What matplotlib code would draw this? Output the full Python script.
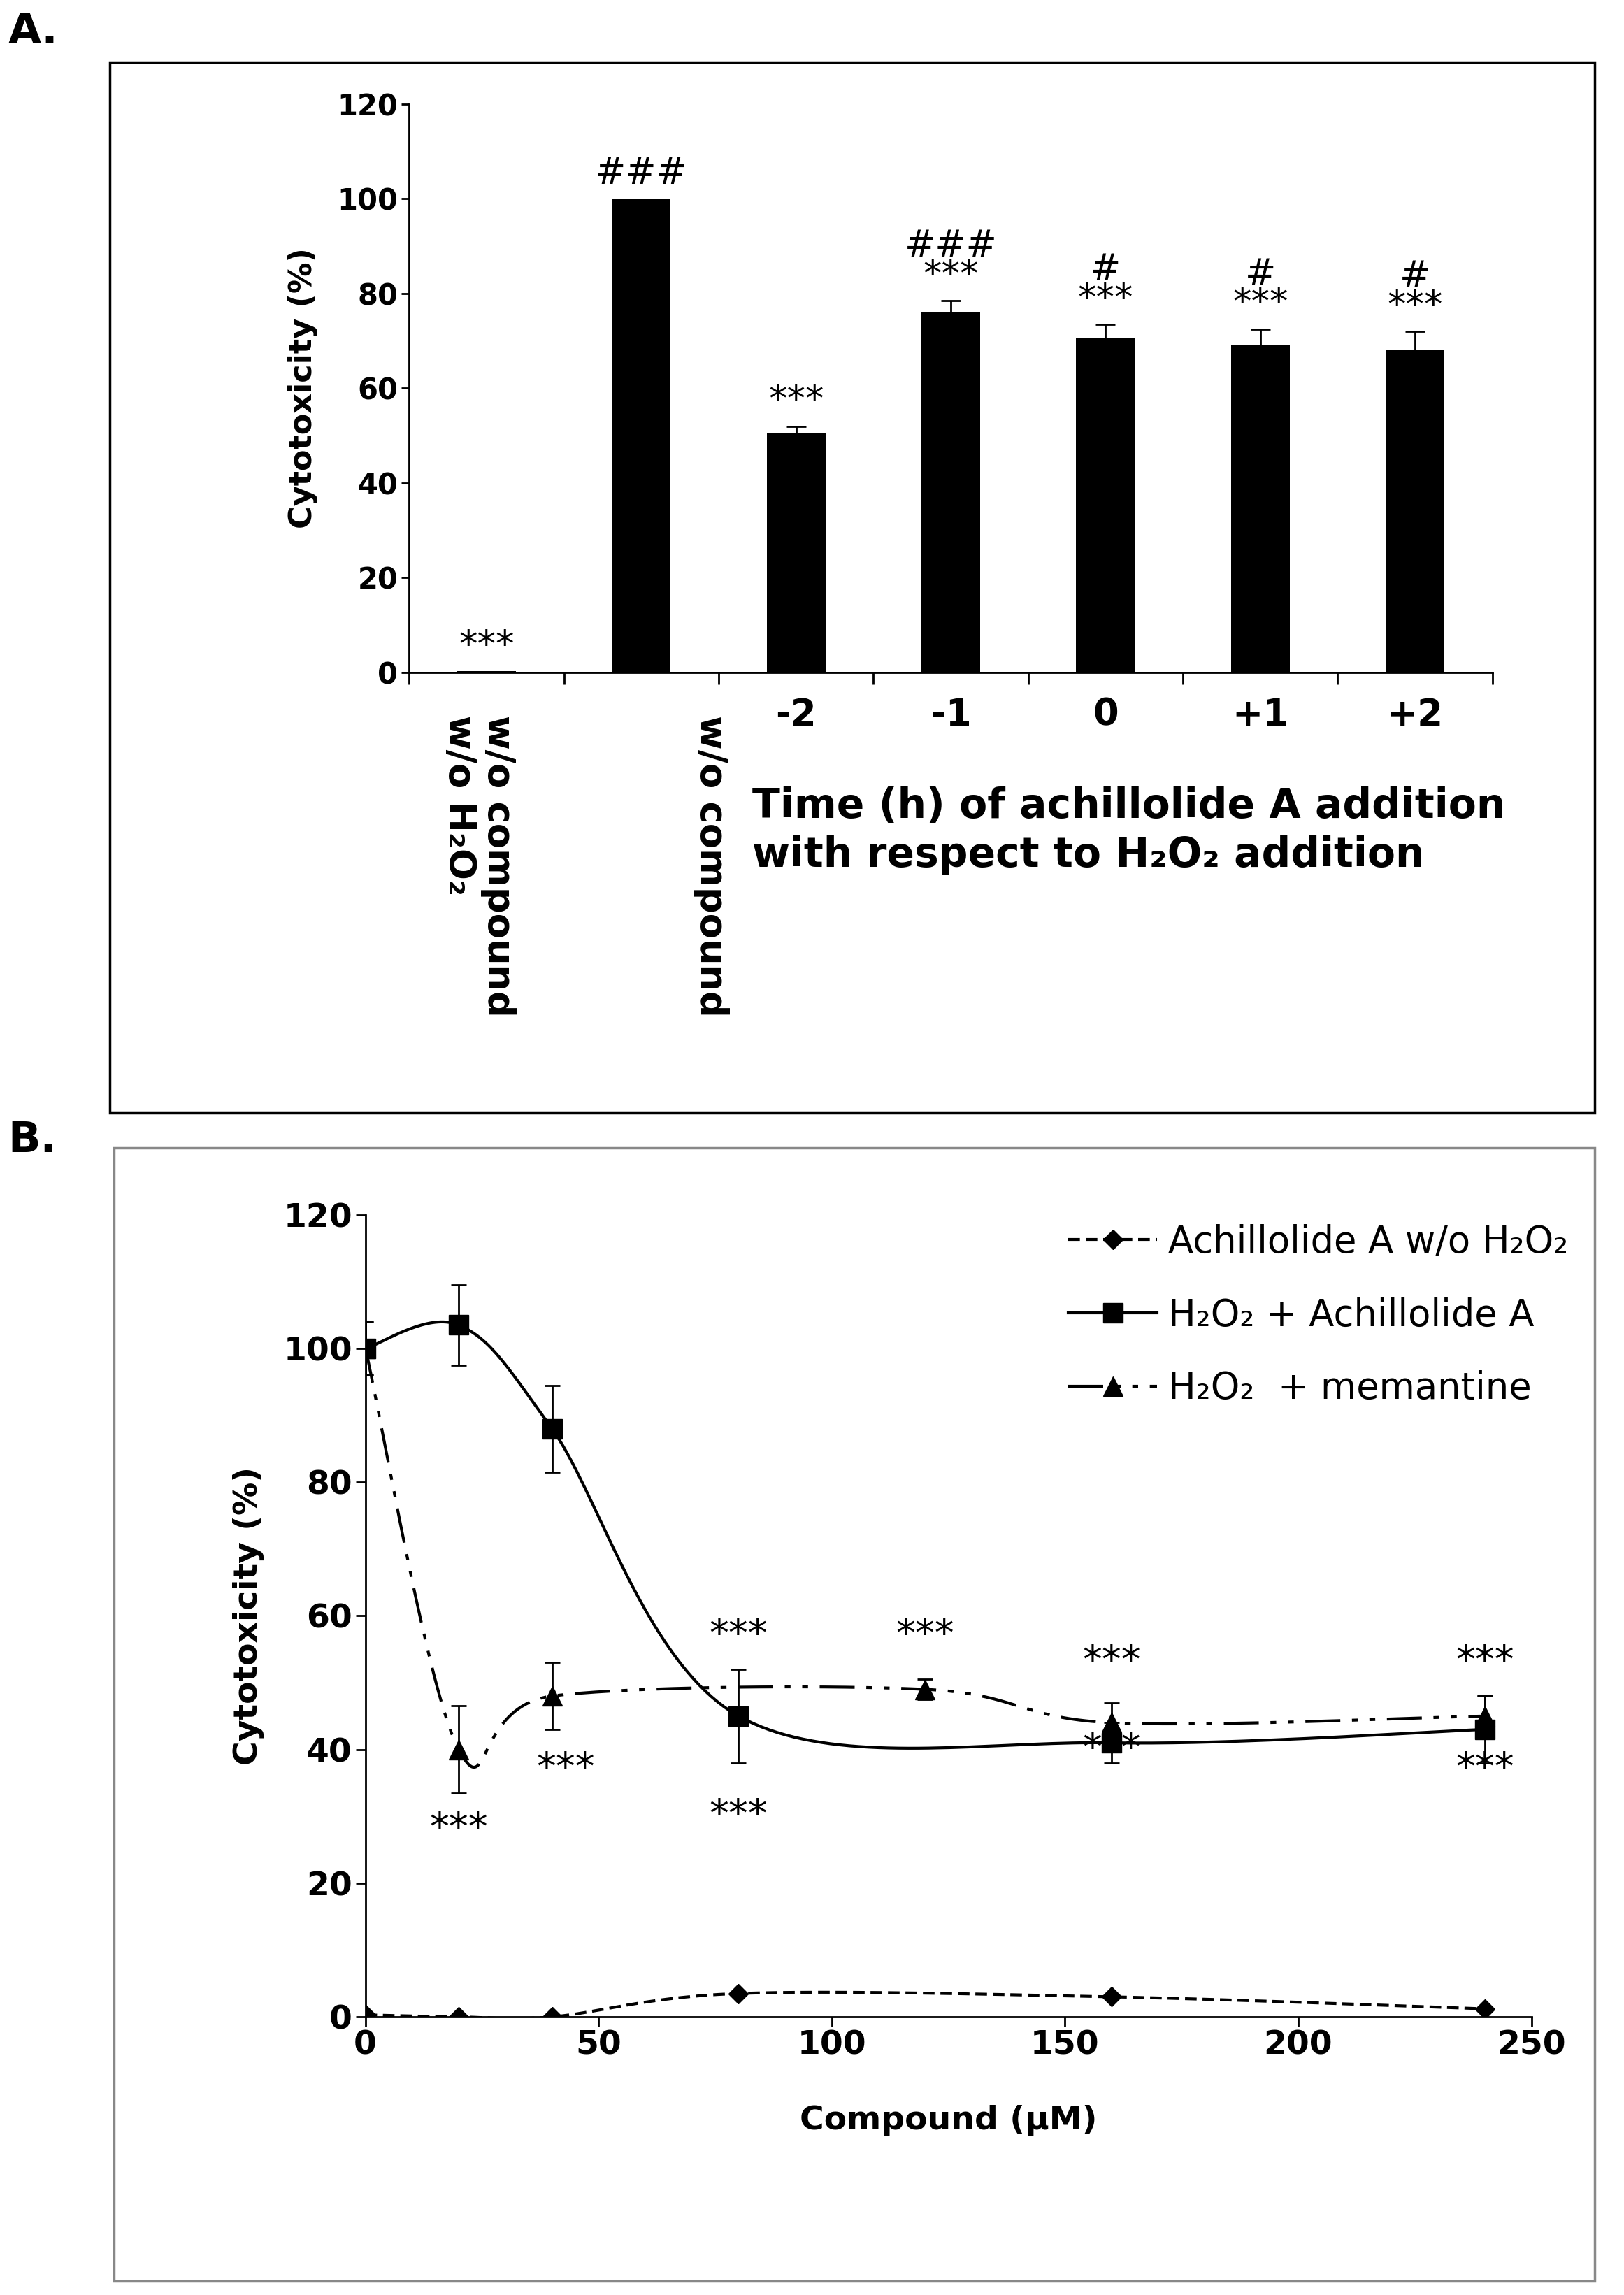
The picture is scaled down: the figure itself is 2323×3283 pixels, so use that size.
import numpy as np
import matplotlib
matplotlib.use("Agg")
import matplotlib.pyplot as plt
from matplotlib.patches import Rectangle
from matplotlib.lines import Line2D

# Panel A data
catsA = ["", "", "-2", "-1", "0", "+1", "+2"]
valsA = [0.3, 100, 50.5, 76, 70.5, 69, 68]
errA = [0, 0, 1.5, 2.5, 3, 3.5, 4]
annA = ["***", "###", "***", "###\n***", "#\n***", "#\n***", "#\n***"]

# Panel B data
x_achi = [0, 20, 40, 80, 160, 240]
y_achi = [0.3, 0.0, 0.0, 3.5, 3.0, 1.2]
x_h2a = [0, 20, 40, 80, 160, 240]
y_h2a = [100, 103.5, 88, 45, 41, 43]
e_h2a = [4, 6, 6.5, 7, 3, 5]
x_mem = [0, 20, 40, 120, 160, 240]
y_mem = [100, 40, 48, 49, 44, 45]
e_mem = [4, 6.5, 5, 1.5, 3, 3]
xticksB = [0, 50, 100, 150, 200, 250]
yticks = [0, 20, 40, 60, 80, 100, 120]
star_x = [20, 43, 80, 80, 120, 160, 160, 240, 240]
star_y = [28, 37, 30, 57, 57, 53, 40, 53, 37]

def smooth(x, y, n=40, t=1/6):
    x = np.asarray(x, float); y = np.asarray(y, float)
    px, py = [], []
    for i in range(len(x) - 1):
        x0, y0 = (x[i-1], y[i-1]) if i > 0 else (x[i], y[i])
        x3, y3 = (x[i+2], y[i+2]) if i + 2 < len(x) else (x[i+1], y[i+1])
        c1 = (x[i] + (x[i+1]-x0)*t, y[i] + (y[i+1]-y0)*t)
        c2 = (x[i+1] - (x3-x[i])*t, y[i+1] - (y3-y[i])*t)
        s = np.linspace(0, 1, n)
        bx = (1-s)**3*x[i] + 3*(1-s)**2*s*c1[0] + 3*(1-s)*s**2*c2[0] + s**3*x[i+1]
        by = (1-s)**3*y[i] + 3*(1-s)**2*s*c1[1] + 3*(1-s)*s**2*c2[1] + s**3*y[i+1]
        px.extend(bx); py.extend(by)
    return px, py

fig = plt.figure(figsize=(23.23, 32.83), dpi=100)
fig.patches.append(Rectangle((0.0676, 0.515), 0.9144, 0.458, transform=fig.transFigure,
                             fill=False, edgecolor="black", lw=2.5))
fig.patches.append(Rectangle((0.0703, 0.006), 0.9117, 0.494, transform=fig.transFigure,
                             fill=False, edgecolor="#888888", lw=2.5))
fig.text(0.005, 0.995, "A.", fontsize=44, fontweight="bold", va="top")
fig.text(0.005, 0.512, "B.", fontsize=44, fontweight="bold", va="top")

# Panel A
axA = fig.add_axes([0.252, 0.707, 0.667, 0.2477])
xs = np.arange(len(valsA))
axA.bar(xs, valsA, width=0.38, color="black")
axA.errorbar(xs[2:], valsA[2:], yerr=[np.zeros(5), errA[2:]], fmt="none", ecolor="black",
             capsize=10, elinewidth=2, capthick=2)
for xi, v, e, a in zip(xs, valsA, errA, annA):
    axA.text(xi, v + e + 1.5, a, ha="center", va="bottom", fontsize=38, linespacing=0.75)
axA.set_xlim(-0.5, 6.5); axA.set_ylim(0, 120)
axA.set_yticks(yticks)
axA.tick_params(axis="y", labelsize=30, width=2, length=8)
for l in axA.get_yticklabels(): l.set_fontweight("bold")
axA.set_xticks(xs)
axA.set_xticklabels(catsA, fontsize=38, fontweight="bold")
axA.tick_params(axis="x", length=0, pad=25)
axA.set_xticks(np.arange(-0.5, 7, 1), minor=True)
axA.tick_params(axis="x", which="minor", length=12, width=2)
for s in ["top", "right"]: axA.spines[s].set_visible(False)
for s in ["left", "bottom"]: axA.spines[s].set_linewidth(2)
axA.set_ylabel("Cytotoxicity (%)", fontsize=32, fontweight="bold", labelpad=20)
axA.text(4.15, -24, "Time (h) of achillolide A addition\nwith respect to H₂O₂ addition",
         ha="center", va="top", fontsize=42, fontweight="bold", linespacing=1.3,
         multialignment="left")
axA.text(-0.05, -9, "w/o compound\nw/o H₂O₂", rotation=270, ha="center", va="top",
         fontsize=38, fontweight="bold", linespacing=1.1, multialignment="left")
axA.text(1.45, -9, "w/o compound", rotation=270, ha="center", va="top",
         fontsize=38, fontweight="bold")

# Panel B
axB = fig.add_axes([0.225, 0.1212, 0.718, 0.3495])
dash_ls = (0, (4, 2))
memo_ls = (0, (12, 4, 2, 4, 2, 4))
sx, sy = smooth(x_achi, y_achi)
axB.plot(sx, sy, color="black", lw=3, ls=dash_ls)
axB.plot(x_achi, y_achi, "D", color="black", ms=14, ls="none")
sx, sy = smooth(x_h2a, y_h2a)
axB.plot(sx, sy, color="black", lw=3)
axB.errorbar(x_h2a, y_h2a, yerr=e_h2a, fmt="s", color="black", ms=20, capsize=8,
             elinewidth=2, capthick=2)
sx, sy = smooth(x_mem, y_mem)
axB.plot(sx, sy, color="black", lw=3, ls=memo_ls)
axB.errorbar(x_mem, y_mem, yerr=e_mem, fmt="^", color="black", ms=20, capsize=8,
             elinewidth=2, capthick=2)
handles = [Line2D([], [], color="black", lw=3, ls=dash_ls, marker="D", ms=14),
           Line2D([], [], color="black", lw=3, marker="s", ms=20),
           Line2D([], [], color="black", lw=3, ls=memo_ls, marker="^", ms=20)]
axB.legend(handles, ["Achillolide A w/o H₂O₂", "H₂O₂ + Achillolide A", "H₂O₂  + memantine"],
           loc="upper right", bbox_to_anchor=(1.06, 1.03), frameon=False, fontsize=38,
           handlelength=2.4, handletextpad=0.3, labelspacing=1.0)
for x, y in zip(star_x, star_y):
    axB.text(x, y, "***", ha="center", va="center", fontsize=40)
axB.set_xlim(0, 250); axB.set_ylim(0, 120)
axB.set_xticks(xticksB); axB.set_yticks(yticks)
axB.tick_params(labelsize=34, width=2, length=10)
for l in axB.get_xticklabels() + axB.get_yticklabels(): l.set_fontweight("bold")
for s in ["top", "right"]: axB.spines[s].set_visible(False)
for s in ["left", "bottom"]: axB.spines[s].set_linewidth(2)
axB.set_ylabel("Cytotoxicity (%)", fontsize=34, fontweight="bold", labelpad=20)
axB.set_xlabel("Compound (µM)", fontsize=34, fontweight="bold", labelpad=45)

fig.savefig("out.png", dpi=100)
